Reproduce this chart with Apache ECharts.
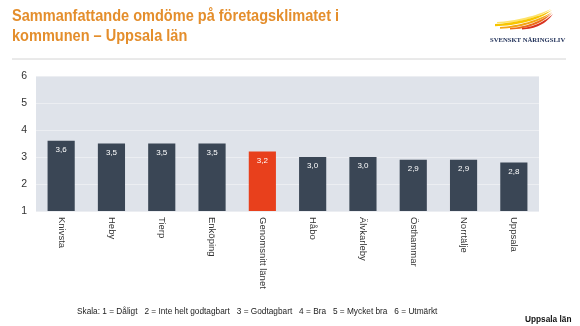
<!DOCTYPE html>
<html>
<head>
<meta charset="utf-8">
<script src="https://cdn.jsdelivr.net/npm/echarts@6/dist/echarts.min.js"></script>
<style>
  html, body { margin: 0; padding: 0; background: #fff; }
  #chart { width: 580px; height: 326px; }
</style>
</head>
<body>
<div id="chart"></div>
<script>
// Municipalities in Uppsala län, ordered by score
var categories = ['Knivsta', 'Heby', 'Tierp', 'Enköping', 'Genomsnitt länet', 'Håbo', 'Älvkarleby', 'Östhammar', 'Norrtälje', 'Uppsala'];
var scores = [3.6, 3.5, 3.5, 3.5, 3.2, 3.0, 3.0, 2.9, 2.9, 2.8];
var highlightCategory = 'Genomsnitt länet';
var yTicks = [1, 2, 3, 4, 5, 6];

var titleLines = ['Sammanfattande omdöme på företagsklimatet i', 'kommunen – Uppsala län'];
var scaleNote = 'Skala: 1 = Dåligt   2 = Inte helt godtagbart   3 = Godtagbart   4 = Bra   5 = Mycket bra   6 = Utmärkt';
var regionNote = 'Uppsala län';

var barColor = '#3a4655';
var highlightColor = '#e8401c';

var chart = echarts.init(document.getElementById('chart'), null, { renderer: 'canvas' });

var barData = categories.map(function (c, i) {
  return {
    value: scores[i],
    itemStyle: { color: c === highlightCategory ? highlightColor : barColor }
  };
});

// Sample a cubic bezier into points
function cubic(p0, p1, p2, p3, n) {
  var pts = [];
  for (var i = 0; i <= n; i++) {
    var t = i / n, u = 1 - t;
    pts.push([
      u * u * u * p0[0] + 3 * u * u * t * p1[0] + 3 * u * t * t * p2[0] + t * t * t * p3[0],
      u * u * u * p0[1] + 3 * u * u * t * p1[1] + 3 * u * t * t * p2[1] + t * t * t * p3[1]
    ]);
  }
  return pts;
}
// A tapered streak: upper edge from start to tip, lower edge back from tip to start
function streak(start, tip, upperCtrl, lowerCtrl, thickness) {
  var top = cubic(start, upperCtrl[0], upperCtrl[1], tip, 16);
  var bottomStart = [start[0], start[1] + thickness];
  var bottom = cubic(tip, lowerCtrl[1], lowerCtrl[0], bottomStart, 16);
  return top.concat(bottom);
}

// Logo wing streaks, yellow underneath fanning to red at the tip
var wing = [
  { color: '#fde36a', pts: streak([497, 22], [551, 9],  [[515, 21], [536, 16]], [[517, 23], [538, 18]], 1.2) },
  { color: '#f7c500', pts: streak([495, 24], [552, 10], [[514, 23], [537, 18]], [[516, 26], [540, 20]], 2.2) },
  { color: '#f4a413', pts: streak([500, 27], [552, 12], [[518, 26], [539, 20]], [[520, 28], [541, 22]], 1.8) },
  { color: '#ec6c1a', pts: streak([510, 28], [552, 13], [[526, 27], [541, 21]], [[528, 29], [543, 23]], 1.5) },
  { color: '#d8321f', pts: streak([522, 28], [553, 14], [[533, 27], [544, 22]], [[535, 29], [546, 24]], 1.4) }
];

var graphics = [
  {
    type: 'text', x: 12, y: 7, scaleX: 0.855,
    style: {
      text: titleLines.join('\n'),
      font: 'bold 17px "Liberation Sans", Arial, sans-serif',
      fill: '#e48e2c',
      lineHeight: 19.5
    }
  },
  {
    type: 'line',
    shape: { x1: 12, y1: 59, x2: 566, y2: 59 },
    style: { stroke: '#d4d4d4', lineWidth: 1 }
  },
  {
    type: 'text', x: 490, y: 37, scaleX: 0.95,
    style: {
      text: 'SVENSKT NÄRINGSLIV',
      font: 'bold 7px "Liberation Serif", "Times New Roman", serif',
      fill: '#22325a'
    }
  },
  {
    type: 'text', x: 77, y: 307, scaleX: 0.92,
    style: {
      text: scaleNote,
      font: '9px "Liberation Sans", Arial, sans-serif',
      fill: '#222222'
    }
  },
  {
    type: 'text', x: 525, y: 315, scaleX: 0.92,
    style: {
      text: regionNote,
      font: 'bold 9px "Liberation Sans", Arial, sans-serif',
      fill: '#111111'
    }
  }
];
wing.forEach(function (w) {
  graphics.push({ type: 'polygon', shape: { points: w.pts }, style: { fill: w.color } });
});

chart.setOption({
  animation: false,
  backgroundColor: '#ffffff',
  textStyle: { fontFamily: 'Liberation Sans, Arial, sans-serif' },
  grid: {
    left: 36, right: 41, top: 76, bottom: 115,
    show: true, backgroundColor: '#dfe3ea', borderWidth: 0
  },
  xAxis: {
    type: 'category',
    data: categories,
    axisLine: { show: false },
    axisTick: { show: false },
    axisLabel: {
      rotate: -90,
      margin: 6,
      fontSize: 9.5,
      color: '#333333',
      interval: 0
    }
  },
  yAxis: {
    type: 'value',
    min: yTicks[0],
    max: yTicks[yTicks.length - 1],
    interval: 1,
    axisLine: { show: false },
    axisTick: { show: false },
    splitLine: { show: true, lineStyle: { color: '#eceef2', width: 1 } },
    axisLabel: { fontSize: 10.5, color: '#333333', margin: 9 }
  },
  series: [{
    type: 'bar',
    data: barData,
    barWidth: '54%',
    label: {
      show: true,
      position: 'insideTop',
      distance: 5,
      color: '#ffffff',
      fontSize: 8,
      formatter: function (p) { return p.value.toFixed(1).replace('.', ','); }
    }
  }],
  graphic: graphics
});
</script>
</body>
</html>
